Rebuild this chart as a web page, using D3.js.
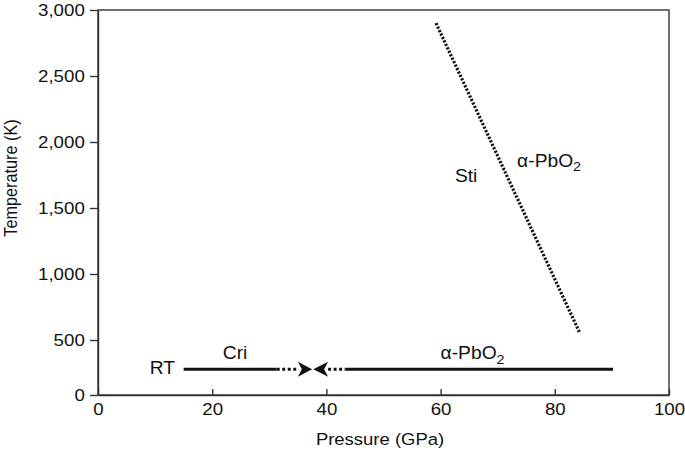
<!DOCTYPE html>
<html><head><meta charset="utf-8">
<script src="https://cdn.jsdelivr.net/npm/d3@7/dist/d3.min.js"></script>
<style>
body{margin:0;background:#fff;}
svg text{font-family:"Liberation Sans",Arial,Helvetica,sans-serif;fill:#111;}
</style>
</head><body>
<svg id="c" width="685" height="457"></svg>
<script>
// ---- data ----
const xTicks = [0, 20, 40, 60, 80, 100];
const yTicks = [0, 500, 1000, 1500, 2000, 2500, 3000];
// Stishovite / alpha-PbO2 boundary (dotted line): [pressure GPa, temperature K]
const stiBoundary = [[59.2, 2900], [84.3, 560]];
// room-temperature compression path
const rtTemp = 235;
const solidSegments = [[15, 31.3], [43.3, 90.2]];
const dottedSegments = [[31.3, 35.0], [40.3, 43.3]];
const arrows = [{from: 35.0, to: 37.5}, {from: 40.3, to: 37.7}];
const labels = [
  {text: "RT", p: 13.5, t: 235, anchor: "end", dy: 5},
  {text: "Cri", p: 24.0, t: 235, anchor: "middle", dy: -10},
  {text: "α-PbO", sub: "2", p: 60.0, t: 235, anchor: "start", dy: -10},
  {text: "Sti", p: 62.5, t: 1697, anchor: "start", dy: 0},
  {text: "α-PbO", sub: "2", p: 73.4, t: 1811, anchor: "start", dy: 0}
];

// ---- layout ----
const W = 685, H = 457;
const m = {l: 98, r: 16, t: 10, b: 62};
const svg = d3.select("#c");
const x = d3.scaleLinear().domain([0, 100]).range([m.l, W - m.r]);
const y = d3.scaleLinear().domain([0, 500, 3000]).range([H - m.b, 340, m.t]);
const SX = "scale(1.1,1)";

// frame
svg.append("rect").attr("x", x(0)).attr("y", y(3000))
  .attr("width", x(100) - x(0)).attr("height", y(0) - y(3000))
  .attr("fill", "none").attr("stroke", "#333").attr("stroke-width", 1.4);

// axes
const gx = svg.append("g").attr("transform", `translate(0,${y(0)})`)
  .call(d3.axisBottom(x).tickValues(xTicks).tickSize(-6).tickSizeOuter(0).tickPadding(8));
const gy = svg.append("g").attr("transform", `translate(${x(0)},0)`)
  .call(d3.axisLeft(y).tickValues(yTicks).tickFormat(d3.format(",")).tickSize(8).tickSizeOuter(0).tickPadding(4));
[gx, gy].forEach(g => {
  g.select(".domain").attr("stroke", "#333").attr("stroke-width", 1.4);
  g.selectAll(".tick line").attr("stroke", "#333").attr("stroke-width", 1.4);
  g.selectAll(".tick text").attr("font-size", 17).attr("fill", "#111")
    .attr("font-family", '"Liberation Sans",Arial,sans-serif').attr("transform", SX);
});

// axis titles
svg.append("text").attr("transform", `translate(380,445) ${SX}`)
  .attr("text-anchor", "middle").attr("font-size", 16.8).text("Pressure (GPa)");
svg.append("text").attr("transform", `translate(17,178) rotate(-90) scale(0.88,1)`)
  .attr("text-anchor", "middle").attr("font-size", 18.5).text("Temperature (K)");

// Sti boundary (dotted)
const line = d3.line().x(d => x(d[0])).y(d => y(d[1]));
svg.append("path").datum(stiBoundary).attr("d", line)
  .attr("fill", "none").attr("stroke", "#111").attr("stroke-width", 3.2)
  .attr("stroke-dasharray", "2.2,1.6");

// RT path
svg.selectAll(".solid").data(solidSegments).join("line")
  .attr("x1", d => x(d[0])).attr("x2", d => x(d[1]))
  .attr("y1", y(rtTemp)).attr("y2", y(rtTemp))
  .attr("stroke", "#111").attr("stroke-width", 3);
svg.selectAll(".dotted").data(dottedSegments).join("line")
  .attr("x1", d => x(d[0])).attr("x2", d => x(d[1]))
  .attr("y1", y(rtTemp)).attr("y2", y(rtTemp))
  .attr("stroke", "#111").attr("stroke-width", 3).attr("stroke-dasharray", "3,2.5");
svg.selectAll(".arrow").data(arrows).join("path")
  .attr("d", d => {
    const xb = x(d.from), xt = x(d.to), yy = y(rtTemp);
    const dir = Math.sign(xt - xb);
    return `M${xt},${yy} L${xb},${yy - 7.5} L${xb + dir * 4},${yy} L${xb},${yy + 7.5} Z`;
  })
  .attr("fill", "#111");

// labels
labels.forEach(l => {
  const t = svg.append("text")
    .attr("transform", `translate(${x(l.p)},${y(l.t) + l.dy}) ${SX}`)
    .attr("text-anchor", l.anchor).attr("font-size", 17.5).text(l.text);
  if (l.sub) t.append("tspan").attr("font-size", 13).attr("dy", 4.5).text(l.sub);
});
</script>
</body></html>
